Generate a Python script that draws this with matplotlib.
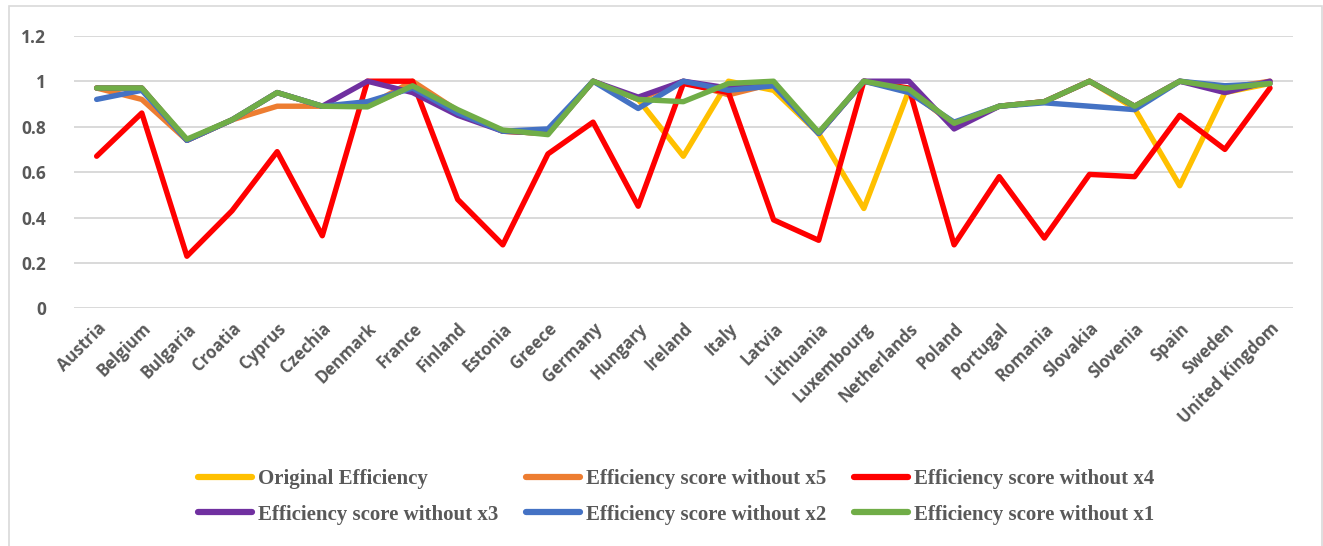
import matplotlib.pyplot as plt
import numpy as np
from matplotlib.patches import Rectangle

countries = ['Austria', 'Belgium', 'Bulgaria', 'Croatia', 'Cyprus', 'Czechia',
             'Denmark', 'France', 'Finland', 'Estonia', 'Greece', 'Germany',
             'Hungary', 'Ireland', 'Italy', 'Latvia', 'Lithuania', 'Luxembourg',
             'Netherlands', 'Poland', 'Portugal', 'Romania', 'Slovakia',
             'Slovenia', 'Spain', 'Sweden', 'United Kingdom']

original = [0.97, 0.97, 0.74, 0.83, 0.95, 0.89, 0.89, 0.98, 0.87, 0.78, 0.77, 1.00,
            0.92, 0.67, 1.00, 0.96, 0.77, 0.44, 0.96, 0.81, 0.89, 0.91, 1.00,
            0.88, 0.54, 0.95, 0.99]
without_x5 = [0.97, 0.92, 0.74, 0.83, 0.89, 0.89, 0.89, 1.00, 0.87, 0.78, 0.77, 1.00,
              0.92, 1.00, 0.94, 0.99, 0.77, 1.00, 0.96, 0.81, 0.89, 0.91, 1.00,
              0.89, 1.00, 0.97, 1.00]
without_x4 = [0.67, 0.86, 0.23, 0.43, 0.69, 0.32, 1.00, 1.00, 0.48, 0.28, 0.68, 0.82,
              0.45, 0.99, 0.95, 0.39, 0.30, 1.00, 0.97, 0.28, 0.58, 0.31, 0.59,
              0.58, 0.85, 0.70, 0.97]
without_x3 = [0.97, 0.97, 0.74, 0.83, 0.95, 0.89, 1.00, 0.95, 0.85, 0.78, 0.77, 1.00,
              0.93, 1.00, 0.97, 0.99, 0.77, 1.00, 1.00, 0.79, 0.89, 0.91, 1.00,
              0.89, 1.00, 0.95, 1.00]
without_x2 = [0.92, 0.96, 0.74, 0.83, 0.95, 0.89, 0.91, 0.97, 0.86, 0.78, 0.79, 1.00,
              0.88, 1.00, 0.96, 0.98, 0.77, 1.00, 0.95, 0.82, 0.89, 0.905, 0.89,
              0.875, 1.00, 0.98, 0.99]
without_x1 = [0.97, 0.97, 0.745, 0.83, 0.95, 0.89, 0.887, 0.98, 0.875, 0.785, 0.765, 1.00,
              0.92, 0.91, 0.99, 1.00, 0.775, 1.00, 0.965, 0.815, 0.89, 0.91, 1.00,
              0.89, 1.00, 0.97, 0.99]

series = [
    ('Original Efficiency', original, '#FFC000'),
    ('Efficiency score without x5', without_x5, '#ED7D31'),
    ('Efficiency score without x4', without_x4, '#FF0000'),
    ('Efficiency score without x3', without_x3, '#7030A0'),
    ('Efficiency score without x2', without_x2, '#4472C4'),
    ('Efficiency score without x1', without_x1, '#70AD47'),
]

grey = '#595959'
fig = plt.figure(figsize=(13.23, 5.46), dpi=100)
ax = fig.add_axes([0.056, 0.435, 0.921, 0.4995])

x = np.arange(len(countries))
lines = []
for name, vals, col in series:
    ln, = ax.plot(x, vals, color=col, lw=3.9, label=name, solid_joinstyle='round',
                  solid_capstyle='round')
    lines.append(ln)

ax.set_xlim(-0.5, len(countries) - 0.5)
ax.set_ylim(0, 1.2)
ax.set_yticks([0, 0.2, 0.4, 0.6, 0.8, 1.0, 1.2])
ax.set_yticklabels(['0', '0.2', '0.4', '0.6', '0.8', '1', '1.2'])
ax.set_xticks(x)
ax.set_xticklabels(countries, rotation=45, ha='right', rotation_mode='anchor')
for lab in ax.get_yticklabels():
    lab.set_fontfamily('Open Sans')
    lab.set_fontweight('bold')
    lab.set_fontsize(12.5)
    lab.set_color(grey)
for lab in ax.get_xticklabels():
    lab.set_fontfamily('Open Sans')
    lab.set_fontweight('bold')
    lab.set_fontsize(12)
    lab.set_color(grey)
ax.tick_params(axis='both', length=0)
ax.tick_params(axis='y', pad=20)
ax.tick_params(axis='x', pad=8)
ax.grid(axis='y', color='#d9d9d9', lw=1.4)
ax.set_axisbelow(True)
for s in ax.spines.values():
    s.set_visible(False)

# chart area border
fig.patches.append(Rectangle((9 / 1323, -0.05), (1322 - 9) / 1323, 1.05 - 6 / 546,
                             transform=fig.transFigure, fill=False,
                             edgecolor='#d9d9d9', lw=1.2))

# legend filled row by row: 3 columns, 2 rows
order = [0, 3, 1, 4, 2, 5]
leg = fig.legend([lines[i] for i in order], [series[i][0] for i in order],
                 loc='center', bbox_to_anchor=(0.511, 0.090), ncol=3, frameon=False,
                 prop={'family': 'Liberation Serif', 'weight': 'bold', 'size': 15},
                 handlelength=2.6, handletextpad=0.3, columnspacing=1.3,
                 labelspacing=0.75)
for t in leg.get_texts():
    t.set_color(grey)
for h in leg.get_lines():
    h.set_linewidth(4.5)

fig.savefig('out.png', dpi=100)
